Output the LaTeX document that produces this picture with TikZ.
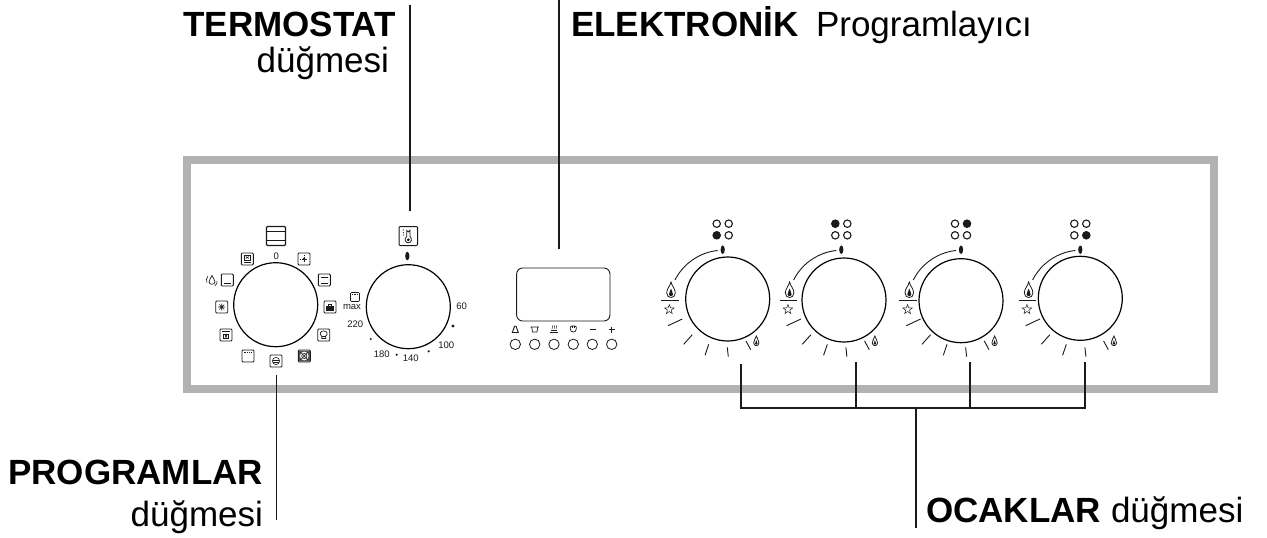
\documentclass[tikz,border=0pt]{standalone}
\usepackage{fontspec}
\setmainfont{Liberation Sans}
\newcommand{\labelfont}{\fontsize{35}{35}\selectfont}
\newcommand{\tinyfont}{\fontsize{9.5}{9.5}\selectfont}
\definecolor{framegray}{HTML}{B2B2B2}
\definecolor{ink}{HTML}{1A1A1A}
\tikzset{
  leader/.style={draw=ink,line width=1.6pt},
  dial/.style={circle,draw=black,line width=1.2pt,minimum size=84pt,inner sep=0pt,outer sep=0pt},
  keybtn/.style={circle,draw=ink,line width=.8pt,minimum size=10.4pt,inner sep=0pt,outer sep=0pt},
  hobdot/.style={circle,draw=ink,line width=1.1pt,minimum size=7.4pt,inner sep=0pt,outer sep=0pt},
  hobon/.style={hobdot,fill=ink},
  marker/.style={ellipse,fill=ink,minimum width=4.2pt,minimum height=8.5pt,inner sep=0pt},
  ticklabel/.style={inner sep=0pt,outer sep=0pt,font=\tinyfont,text=ink},
  callout/.style={inner sep=0pt,outer sep=0pt,font=\labelfont,text=black},
  iconbox/.style={draw=ink,line width=.9pt,rounded corners=1pt},
  thinink/.style={draw=ink,line width=.6pt},
  tickline/.style={draw=ink,line width=.9pt}
}
\usetikzlibrary{shapes.geometric}
% flame: centre at origin, scale given
\newcommand{\flame}[3]{\begin{scope}[shift={(#1,#2)},scale=#3]
 \draw[ink,line width=.8pt] (0,-8) .. controls (1,-3.5) and (4.3,-1.5) .. (4.3,3) .. controls (4.3,6) and (2,7.5) .. (0,7.5) .. controls (-2,7.5) and (-4.3,6) .. (-4.3,3) .. controls (-4.3,-1.5) and (-1,-3.5) .. (0,-8) -- cycle;
 \fill[ink] (0,-1.5) .. controls (.6,1) and (2,2.5) .. (2,4.5) .. controls (2,6.5) and (-2,6.5) .. (-2,4.5) .. controls (-2,2.5) and (-.6,1) .. (0,-1.5) -- cycle;
\end{scope}}
% burner: #1 key, #2 group x, #3 dial x, #4 dial y, #5 which dot is on (1..4)
\newcommand{\burner}[5]{%
 \node[dial] (dial#1) at (#3,#4) {};
 \begin{scope}[shift={(#2,249.7)}]
  \node[marker] (tick#1) at (0,0) {};
  \foreach \n/\dx/\dy in {1/-6/-26,2/6/-26,3/-6/-14.4,4/6/-14.4}{
    \ifnum\n=#5\relax \node[hobon] (dot#1\n) at (\dx,\dy) {};
    \else \node[hobdot] (dot#1\n) at (\dx,\dy) {};\fi
  }
  \coordinate (arcA#1) at (-5,.8);
  \coordinate (arcB#1) at (-47.7,30.3);
  \draw[tickline] (arcA#1) .. controls (-22,2.5) and (-39,13) .. (arcB#1);
  \flame{-51.7}{40.3}{1}
  \draw[tickline] (-61.7,51) -- (-44,51);
  \begin{scope}[shift={(-53.4,59.8)}]
   \draw[ink,line width=.5pt] (0,-5) -- (1.2,-1.6) -- (4.8,-1.5) -- (1.9,.6) -- (2.9,4) -- (0,2) -- (-2.9,4) -- (-1.9,.6) -- (-4.8,-1.5) -- (-1.2,-1.6) -- cycle;
  \end{scope}
  \draw[tickline] (-54.7,76) -- (-40.4,69.3);
  \draw[tickline] (-39,94.6) -- (-30.4,85);
  \draw[tickline] (-17.7,105.6) -- (-14,94.6);
  \draw[tickline] (5.6,107) -- (4.6,97.6);
  \draw[tickline] (28,100) -- (23.3,91.3);
  \flame{33.6}{91.3}{.62}
 \end{scope}}
% programme icon box, 12 px
\newcommand{\pbox}[3]{\begin{scope}[shift={(#1,#2)}]
 \draw[iconbox] (-6,-6) rectangle (6,6);
 #3
\end{scope}}
\begin{document}
\begin{tikzpicture}[x=1pt,y=-1pt]
\useasboundingbox (0,0) rectangle (1267,538);
% frame
\draw[framegray,line width=8pt,miter limit=10] (187,160) rectangle (1214,389);

% ---- programme dial
\node[dial] (prog) at (275.7,304.7) {};
\draw[ink,line width=1.1pt,rounded corners=1pt] (266.5,226.5) rectangle (285.5,245.5);
\draw[ink,line width=1.1pt] (266.5,231.5) -- (285.5,231.5) (266.5,240.5) -- (285.5,240.5);
\node[ticklabel] (zero) at (276.3,256) {0};
\pbox{247.3}{259}{\draw[thinink] (-3,-3.5) rectangle (3,1); \draw[thinink] (-3.5,3.5) -- (3.5,3.5); \draw[thinink] (-1.5,-.5) -- (1.5,-2.5) (-1.5,-2.5) -- (1.5,-.5);}
\pbox{304}{259}{\draw[thinink,densely dotted] (-4,0) -- (4,0) (0,-4) -- (0,4); \fill[ink] (0,0) circle (1.3);}
\pbox{227.3}{280}{\draw[thinink,line width=.8pt] (-3.5,3) -- (3.5,3);}
\pbox{324.3}{280}{\draw[thinink,line width=.7pt] (-3.5,-3) -- (3.5,-3) (-3.5,3) -- (3.5,3);}
\pbox{330}{307}{\fill[ink] (-3.8,-1.5) rectangle (3.8,3.5); \draw[thinink] (-1.5,-1.5) -- (-1.5,-3) -- (1.5,-3) -- (1.5,-1.5);}
\pbox{221.7}{307}{\draw[thinink] (-3.5,0) -- (3.5,0) (0,-3.5) -- (0,3.5) (-2.5,-2.5) -- (2.5,2.5) (-2.5,2.5) -- (2.5,-2.5);}
\pbox{226}{335}{\draw[ink,line width=1pt] (-4,-3.5) -- (4,-3.5); \draw[thinink] (-2.5,-1) rectangle (2.5,3.5); \draw[thinink] (-1,0) -- (1,2.5) (1,0) -- (-1,2.5);}
\pbox{323.7}{335}{\draw[thinink,line width=.7pt] (-2,1) .. controls (-5,-.5) and (-3,-4.5) .. (0,-4) .. controls (3,-4.5) and (5,-.5) .. (2,1) -- (2,3.5) -- (-2,3.5) -- cycle; \draw[thinink] (-2,1.5) -- (2,1.5);}
\pbox{248}{356}{\draw[ink,line width=.8pt,densely dotted] (-4.5,-3.5) -- (4.5,-3.5);}
\pbox{304.3}{356}{\fill[ink!75,rounded corners=1pt] (-5.5,-5.5) rectangle (5.5,5.5); \fill[white] (0,0) circle (4.4); \draw[thinink] (0,0) circle (2.6); \draw[thinink] (-4,-4) -- (4,4) (-4,4) -- (4,-4); \fill[ink] (0,0) circle (.7);}
\pbox{276}{361}{\draw[thinink] (0,0) circle (3.6); \draw[thinink] (-3,-1) -- (3,-1) (-3.4,1) -- (3.4,1);}
% drop symbol next to the icon
\draw[ink,line width=.7pt] (212,275.5) .. controls (212.8,278) and (215,279.5) .. (215,282) .. controls (215,285) and (209,285) .. (209,282) .. controls (209,279.5) and (211.2,278) .. (212,275.5) -- cycle;
\draw[thinink] (208,276) .. controls (206.2,278) and (206,280.5) .. (207,282.5);
\draw[thinink] (217,281) .. controls (217.5,283) and (216.5,284.5) .. (215,285.7);

% ---- thermostat dial
\node[dial] (thermo) at (408.3,306.7) {};
\draw[ink,line width=1pt,rounded corners=1pt] (399,226.5) rectangle (417.5,245.5);
\draw[ink,line width=.8pt] (406.7,236.5) -- (406.7,230.3) arc (180:0:1.6) -- (409.9,236.5);
\draw[ink,line width=.8pt] (406.7,236.5) .. controls (404,238.5) and (405,242.8) .. (408.3,242.8) .. controls (411.6,242.8) and (412.6,238.5) .. (409.9,236.5);
\fill[ink] (408.3,239.8) circle (1.6);
\fill[ink] (403.5,230) circle (.55) (403.5,232.5) circle (.55) (403.5,235) circle (.55);
\node[marker] (thermotick) at (407.3,256) {};
\draw[iconbox,line width=.6pt] (350.5,292.5) rectangle (359.5,301.5);
\draw[thinink,densely dotted] (352,294.5) -- (358,294.5);
\node[ticklabel] (tmax) at (352,306.7) {max};
\node[ticklabel] (t220) at (355.3,324.7) {220};
\node[ticklabel] (t60) at (461.7,306.7) {60};
\node[ticklabel] (t100) at (446.3,345.7) {100};
\node[ticklabel] (t140) at (410.7,358) {140};
\node[ticklabel] (t180) at (381.7,354) {180};
\fill[ink] (453,326) circle (1.7) (370.7,339) circle (1.2) (428.7,351.3) circle (1.2) (396.7,354.7) circle (1.2);

% ---- programmer
\node[draw=ink,line width=.9pt,rounded corners=6pt,minimum width=93.3pt,minimum height=53pt,inner sep=0pt,outer sep=0pt] (display) at (563.3,294.5) {};
\foreach \n/\x in {1/515.3,2/534.7,3/554,4/573.3,5/592.3,6/611.7}{
  \node[keybtn] (key\n) at (\x,344.3) {};
}
% bell
\draw[ink,line width=.9pt] (512.3,332.5) -- (518.3,332.5) -- (516,326.2) -- (514.6,326.2) -- cycle;
% pot
\draw[ink,line width=.7pt] (530.5,327) -- (538.9,327) (531.7,327) -- (532.5,332) -- (537,332) -- (537.8,327);
% steam
\draw[ink,line width=.7pt] (550,332.5) -- (558,332.5) (550.8,330.5) -- (557.2,330.5);
\draw[ink,line width=.5pt] (552,329) -- (552.6,325.5) (554,329) -- (554.6,325.5) (556,329) -- (556.6,325.5);
% hand
\draw[ink,line width=.7pt] (570.3,329) .. controls (570.3,333) and (576.3,333) .. (576.3,329) -- (576.3,327) .. controls (576,325.5) and (571,325.5) .. (570.3,327) -- cycle;
\draw[ink,line width=.6pt] (572.3,325.7) -- (572.3,328) (574.3,325.7) -- (574.3,328);
% minus, plus
\draw[ink,line width=.8pt] (589.5,329.5) -- (595.5,329.5);
\draw[ink,line width=.8pt] (608.7,329.5) -- (614.7,329.5) (611.7,326.5) -- (611.7,332.5);

% ---- burners
\burner{A}{722.7}{727.7}{299}{3}
\burner{B}{841.3}{844}{300}{1}
\burner{C}{961}{961}{300.7}{2}
\burner{D}{1080.3}{1080.3}{298.3}{4}

% ---- leaders
\coordinate (tTop) at (409.7,5);
\coordinate (tEnd) at (409.7,211);
\coordinate (eTop) at (559,0);
\coordinate (eEnd) at (559,249);
\coordinate (pTop) at (276.5,375);
\coordinate (pEnd) at (276.5,520);
\coordinate (b1) at (741,364);
\coordinate (b2) at (856,362);
\coordinate (b3) at (970,362);
\coordinate (b4) at (1085,362);
\coordinate (j1) at (741,408);
\coordinate (j2) at (856,408);
\coordinate (j3) at (970,408);
\coordinate (j4) at (1085,408);
\coordinate (jm) at (915.7,408);
\coordinate (oEnd) at (915.7,528);
\draw[leader] (tTop) -- (tEnd);
\draw[leader] (eTop) -- (eEnd);
\draw[leader] (pTop) -- (pEnd);
\draw[leader] (b1) -- (j1) -- (j4) -- (b4);
\draw[leader] (b2) -- (j2);
\draw[leader] (b3) -- (j3);
\draw[leader] (jm) -- (oEnd);

% ---- labels
\node[callout,anchor=base east] (termo) at (396,36.5) {\textbf{TERMOSTAT}};
\node[callout,anchor=base east] (termod) at (389,72.5) {düğmesi};
\node[callout,anchor=base west] (elek) at (571,36.5) {\textbf{ELEKTRONİK}};
\node[callout,anchor=base west] (elekp) at (816,36.5) {Programlayıcı};
\node[callout,anchor=base east] (progl) at (263,484) {\textbf{PROGRAMLAR}};
\node[callout,anchor=base east] (progd) at (263,526) {düğmesi};
\node[callout,anchor=base west] (ocak) at (926,522) {\textbf{OCAKLAR}};
\node[callout,anchor=base west] (ocakd) at (1111,522) {düğmesi};
\end{tikzpicture}
\end{document}
